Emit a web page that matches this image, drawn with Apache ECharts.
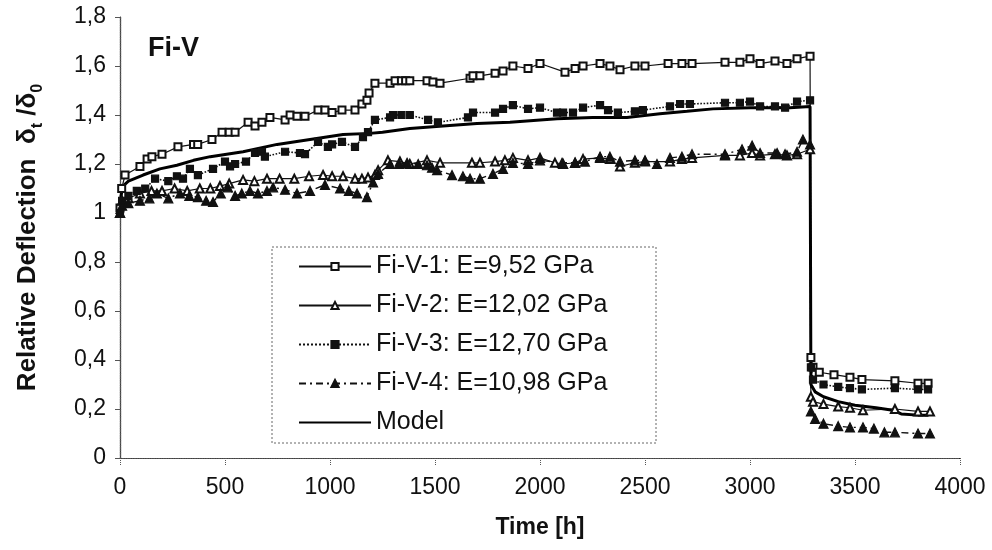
<!DOCTYPE html>
<html><head><meta charset="utf-8">
<script src="https://cdn.jsdelivr.net/npm/echarts@6/dist/echarts.min.js"></script>
<style>html,body{margin:0;padding:0;background:#fff}#c{width:992px;height:550px}</style>
</head><body><div id="c"></div>
<script>
const FONT = '"Liberation Sans", Arial, sans-serif';
const xTicks = [0, 500, 1000, 1500, 2000, 2500, 3000, 3500, 4000];
const yTickLabels = ['0', '0,2', '0,4', '0,6', '0,8', '1', '1,2', '1,4', '1,6', '1,8'];
const seriesNames = ['Fi-V-1: E=9,52 GPa', 'Fi-V-2: E=12,02 GPa', 'Fi-V-3: E=12,70 GPa', 'Fi-V-4: E=10,98 GPa', 'Model'];

const fiV1 = [[0,1.02],[8,1.10],[24,1.155],[95,1.19],[129,1.22],[152,1.23],[200,1.24],[276,1.27],[350,1.28],[370,1.28],[438,1.30],[486,1.33],[520,1.33],[548,1.33],[610,1.37],[643,1.355],[676,1.37],[714,1.39],[786,1.38],[810,1.40],[843,1.395],[881,1.395],[943,1.42],[976,1.42],[1010,1.41],[1057,1.42],[1119,1.42],[1152,1.445],[1176,1.46],[1186,1.49],[1214,1.53],[1286,1.53],[1310,1.54],[1340,1.54],[1360,1.54],[1380,1.54],[1462,1.54],[1490,1.535],[1524,1.53],[1667,1.55],[1681,1.56],[1714,1.56],[1786,1.57],[1824,1.58],[1871,1.60],[1943,1.59],[2000,1.61],[2119,1.575],[2167,1.59],[2205,1.60],[2286,1.61],[2333,1.60],[2381,1.585],[2452,1.60],[2500,1.60],[2610,1.61],[2676,1.61],[2724,1.61],[2881,1.615],[2952,1.615],[3000,1.63],[3048,1.61],[3119,1.62],[3176,1.61],[3224,1.63],[3286,1.64],[3290,0.41],[3300,0.37],[3330,0.35],[3400,0.34],[3476,0.33],[3533,0.32],[3690,0.315],[3800,0.305],[3848,0.305]];

const fiV2 = [[0,1.00],[10,1.05],[40,1.06],[95,1.08],[150,1.09],[200,1.09],[260,1.10],[320,1.09],[380,1.10],[430,1.10],[476,1.11],[520,1.12],[586,1.135],[640,1.13],[700,1.14],[760,1.14],[830,1.14],[900,1.15],[967,1.155],[1010,1.15],[1062,1.15],[1119,1.14],[1152,1.14],[1181,1.145],[1214,1.155],[1229,1.175],[1276,1.215],[1333,1.21],[1380,1.20],[1462,1.215],[1524,1.205],[1676,1.205],[1714,1.205],[1786,1.21],[1833,1.215],[1871,1.225],[1943,1.215],[2000,1.225],[2071,1.205],[2110,1.20],[2167,1.205],[2205,1.22],[2286,1.225],[2333,1.22],[2381,1.19],[2452,1.205],[2500,1.21],[2619,1.21],[2676,1.22],[2724,1.225],[2881,1.235],[2952,1.235],[3010,1.245],[3048,1.235],[3119,1.24],[3176,1.235],[3224,1.24],[3286,1.26],[3290,0.25],[3300,0.23],[3350,0.22],[3420,0.21],[3476,0.205],[3538,0.195],[3690,0.20],[3800,0.19],[3857,0.19]];

const fiV3 = [[0,1.00],[10,1.05],[40,1.07],[80,1.09],[120,1.10],[167,1.14],[230,1.13],[271,1.15],[300,1.14],[333,1.18],[371,1.155],[443,1.18],[500,1.21],[524,1.19],[548,1.20],[600,1.21],[643,1.245],[676,1.25],[690,1.23],[786,1.25],[857,1.245],[881,1.24],[943,1.29],[990,1.27],[1010,1.28],[1057,1.29],[1119,1.27],[1157,1.31],[1181,1.33],[1214,1.38],[1286,1.39],[1300,1.40],[1340,1.40],[1380,1.40],[1467,1.38],[1514,1.37],[1657,1.39],[1681,1.41],[1786,1.41],[1824,1.425],[1871,1.44],[1943,1.425],[2000,1.43],[2081,1.41],[2110,1.41],[2157,1.41],[2205,1.43],[2286,1.44],[2324,1.42],[2371,1.41],[2452,1.415],[2490,1.42],[2619,1.435],[2667,1.445],[2714,1.445],[2881,1.45],[2952,1.45],[3000,1.455],[3048,1.435],[3119,1.435],[3167,1.43],[3224,1.455],[3286,1.46],[3290,0.37],[3300,0.32],[3350,0.30],[3420,0.29],[3476,0.285],[3533,0.28],[3690,0.285],[3800,0.28],[3848,0.28]];

const fiV4 = [[0,1.00],[10,1.03],[40,1.04],[95,1.05],[140,1.06],[176,1.08],[230,1.06],[286,1.08],[330,1.07],[371,1.065],[410,1.05],[443,1.045],[480,1.08],[514,1.105],[548,1.07],[580,1.08],[619,1.09],[657,1.08],[700,1.09],[729,1.105],[786,1.095],[843,1.08],[905,1.09],[976,1.115],[1048,1.10],[1090,1.09],[1129,1.08],[1176,1.065],[1205,1.125],[1229,1.16],[1286,1.20],[1330,1.20],[1367,1.205],[1420,1.20],[1462,1.195],[1486,1.185],[1510,1.175],[1581,1.155],[1600,null],[1633,1.15],[1667,1.14],[1714,1.14],[1776,1.16],[1824,1.18],[1871,1.205],[1943,1.20],[2000,1.215],[2105,1.205],[2167,1.205],[2214,1.21],[2286,1.23],[2333,1.23],[2381,1.21],[2452,1.215],[2500,1.215],[2557,1.20],[2590,null],[2619,1.225],[2676,1.23],[2724,1.24],[2881,1.24],[2962,1.26],[3010,1.275],[3048,1.245],[3129,1.245],[3167,1.24],[3224,1.25],[3252,1.30],[3286,1.28],[3290,0.19],[3310,0.16],[3350,0.14],[3420,0.13],[3476,0.125],[3538,0.125],[3590,0.12],[3615,null],[3640,0.105],[3690,0.105],[3800,0.10],[3857,0.10]];

const model = [[0,1.00],[5,1.07],[14,1.11],[40,1.13],[110,1.155],[190,1.18],[271,1.195],[350,1.215],[430,1.23],[586,1.25],[748,1.28],[905,1.30],[1062,1.32],[1190,1.325],[1250,1.33],[1380,1.345],[1538,1.355],[1700,1.365],[1857,1.37],[2081,1.385],[2250,1.39],[2414,1.39],[2571,1.405],[2700,1.415],[2824,1.425],[3000,1.43],[3190,1.43],[3286,1.435],[3290,0.30],[3310,0.27],[3350,0.25],[3420,0.23],[3500,0.215],[3600,0.205],[3680,0.195],[3720,0.18],[3800,0.175],[3850,0.175]];

const chart = echarts.init(document.getElementById('c'), null, {renderer: 'canvas'});
const txt = {color: '#111', fontFamily: FONT};
function lineSeries(name, data, symbol, size, lineType, width) {
  return {
    name, type: 'line', data, symbol, symbolSize: size, showAllSymbol: true,
    connectNulls: false, animation: false,
    lineStyle: {color: '#111', width: width, type: lineType},
    itemStyle: {color: '#111', borderColor: '#111', borderWidth: 1.2}
  };
}
chart.setOption({
  backgroundColor: '#fff',
  animation: false,
  title: {text: 'Fi-V', left: 143, top: 30, textStyle: {fontFamily: FONT, fontWeight: 'bold', fontSize: 27, color: '#111'}},
  grid: {left: 120, right: 32, top: 17, bottom: 92},
  legend: {
    orient: 'vertical', left: 298, top: 254, itemWidth: 72, itemHeight: 9, itemGap: 14, padding: 0,
    data: [seriesNames[0], seriesNames[1], seriesNames[2], seriesNames[3],
      {name: seriesNames[4], itemStyle: {color: 'rgba(0,0,0,0)', borderColor: 'rgba(0,0,0,0)', borderWidth: 0}}],
    textStyle: {fontFamily: FONT, fontSize: 25, color: '#111', lineHeight: 24}
  },
  graphic: [{type: 'rect', shape: {x: 272, y: 247, width: 384, height: 196}, z: -1,
    style: {fill: '#fff', stroke: '#666', lineWidth: 1, lineDash: [2, 2]}}],
  xAxis: [{
    type: 'value', min: 0, max: 4000, interval: 500,
    name: 'Time [h]', nameLocation: 'middle', nameGap: 58,
    nameTextStyle: {fontFamily: FONT, fontWeight: 'bold', fontSize: 23, color: '#111'},
    axisLine: {show: true, lineStyle: {color: '#111', width: 1.2}},
    axisTick: {show: true, inside: false, length: 8, lineStyle: {color: '#555', type: 'dotted'}},
    axisLabel: Object.assign({fontSize: 23, margin: 18, formatter: v => String(v)}, txt),
    splitLine: {show: false}
  }, {
    type: 'value', min: 0, max: 4000, position: 'top',
    axisLine: {show: true, lineStyle: {color: '#555', type: 'dotted', width: 1.2}},
    axisTick: {show: false}, axisLabel: {show: false}, splitLine: {show: false}
  }],
  yAxis: [{
    type: 'value', min: 0, max: 1.8, interval: 0.2,
    name: '{b|Relative Deflection  δ}{s|t}{b| /δ}{s|0}', nameLocation: 'middle', nameGap: 74,
    nameTextStyle: {fontFamily: FONT, fontWeight: 'bold', fontSize: 26, color: '#111',
      rich: {b: {fontFamily: FONT, fontWeight: 'bold', fontSize: 26, color: '#111', lineHeight: 36, verticalAlign: 'middle'},
             s: {fontFamily: FONT, fontWeight: 'bold', fontSize: 16, color: '#111', lineHeight: 36, verticalAlign: 'bottom'}}},
    axisLine: {show: true, lineStyle: {color: '#111', width: 1.2}},
    axisTick: {show: true, inside: false, length: 5, lineStyle: {color: '#555'}},
    axisLabel: Object.assign({fontSize: 23, margin: 14, formatter: (v) => yTickLabels[Math.round(v / 0.2)]}, txt),
    splitLine: {show: false}
  }, {
    type: 'value', min: 0, max: 1.8, position: 'right',
    axisLine: {show: true, lineStyle: {color: '#555', type: 'dotted', width: 1.2}},
    axisTick: {show: false}, axisLabel: {show: false}, splitLine: {show: false}
  }],
  series: [
    lineSeries(seriesNames[0], fiV1, 'emptyRect', 7, 'solid', 1.2),
    lineSeries(seriesNames[1], fiV2, 'emptyTriangle', 8, 'solid', 1.2),
    lineSeries(seriesNames[2], fiV3, 'rect', 7, 'dotted', 1.6),
    lineSeries(seriesNames[3], fiV4, 'triangle', 9, [7, 4, 2, 4], 1.4),
    {name: seriesNames[4], type: 'line', data: model, symbol: 'none', showSymbol: false,
     lineStyle: {color: '#000', width: 3}, itemStyle: {color: '#000'}, z: 3}
  ]
});
</script></body></html>
